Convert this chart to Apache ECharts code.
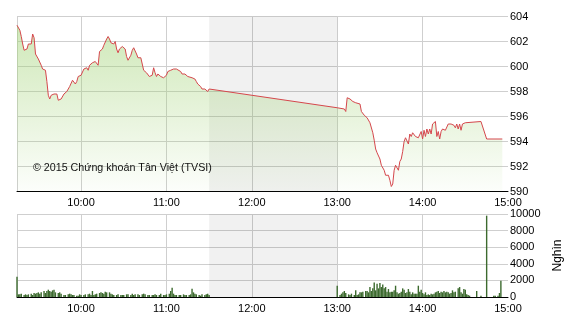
<!DOCTYPE html>
<html>
<head>
<meta charset="utf-8">
<script src="https://cdn.jsdelivr.net/npm/echarts@6/dist/echarts.min.js"></script>
<style>
html,body{margin:0;padding:0;background:#fff;}
#chart{width:570px;height:320px;}
</style>
</head>
<body>
<div id="chart"></div>
<script>
// ---- Data ----
const xTickLabels = ['10:00','11:00','12:00','13:00','14:00','15:00'];
const xStart = '09:15';
const xEnd = '15:00';
const lunchBreak = ['11:30','13:00'];
const priceTicks = [590, 592, 594, 596, 598, 600, 602, 604];
const volumeTicks = [0, 2000, 4000, 6000, 8000, 10000];
const volumeUnit = 'Nghìn';
const copyright = '© 2015 Chứng khoán Tân Việt (TVSI)';

const priceTimes = [
 '09:15','09:17','09:18','09:19','09:20','09:22','09:23','09:25','09:26','09:27','09:28','09:30',
 '09:32','09:33','09:35','09:36','09:37','09:38','09:39','09:41','09:42','09:43','09:44','09:45',
 '09:46','09:48','09:49','09:50','09:51','09:52','09:54','09:55','09:56','09:57','09:58','09:59',
 '10:00','10:02','10:04','10:05','10:06','10:08','10:10','10:11','10:12','10:13','10:14','10:15',
 '10:16','10:18','10:19','10:20','10:21','10:22','10:23','10:24','10:25','10:26','10:27','10:29',
 '10:30','10:31','10:32','10:33','10:35','10:36','10:37','10:38','10:39','10:40','10:42','10:43',
 '10:44','10:46','10:48','10:50','10:51','10:52','10:53','10:54','10:56','10:57','10:58','10:59',
 '11:00','11:01','11:03','11:05','11:07','11:08','11:10','11:11','11:13','11:14','11:15','11:18',
 '11:20','11:21','11:22','11:24','11:25','11:27','11:28','11:29','11:30',
 '13:00','13:05','13:06','13:07','13:09','13:11','13:13','13:14','13:16','13:17','13:19','13:21',
 '13:23','13:24','13:25','13:26','13:27','13:28','13:30','13:31','13:33','13:34','13:35','13:36',
 '13:37','13:38','13:39','13:40','13:41','13:42','13:43','13:44','13:45','13:46','13:47','13:48',
 '13:49','13:50','13:51','13:52','13:53','13:55','13:56','13:57','13:58','13:59','14:00','14:01',
 '14:02','14:03','14:04','14:05','14:06','14:07','14:08','14:09','14:10','14:11','14:12','14:13',
 '14:14','14:16','14:17','14:18','14:20','14:21','14:22','14:23','14:24','14:25','14:26','14:27',
 '14:28','14:29','14:30','14:31','14:41','14:45','14:56'
];
const priceValues = [
 603.3,602.9,602.4,601.8,601.3,601.4,601.8,601.8,602.6,602.3,601.0,600.6,
 600.1,599.8,599.7,598.8,597.7,597.4,597.7,597.8,597.9,597.8,597.3,597.2,
 597.4,597.8,597.9,598.0,598.2,598.4,598.9,598.8,598.6,598.8,599.2,599.1,
 599.3,599.8,599.9,599.7,600.1,600.3,600.4,600.5,600.1,601.2,601.2,601.4,
 601.7,602.2,602.4,602.2,601.9,602.0,601.8,602.0,601.4,601.1,601.4,601.6,
 601.6,601.4,600.8,600.5,600.9,601.3,601.5,601.4,601.0,600.7,600.7,600.2,
 599.7,599.5,599.2,599.3,599.9,599.5,599.2,599.4,599.2,599.3,599.1,599.0,
 599.3,599.6,599.7,599.8,599.8,599.7,599.6,599.4,599.4,599.3,599.2,599.1,
 599.0,598.8,598.6,598.4,598.2,598.2,598.1,598.0,598.2,
 596.7,596.6,596.4,597.5,597.4,597.2,597.1,597.2,597.0,596.4,596.1,595.9,
 595.5,595.4,594.7,594.1,593.4,593.1,592.6,592.1,591.7,591.3,591.2,591.3,
 590.9,590.4,590.6,591.7,592.1,592.1,591.7,592.4,592.6,593.2,594.0,594.3,
 594.4,593.8,594.6,594.4,594.7,594.4,594.4,594.3,594.4,594.8,594.2,594.9,
 594.4,595.0,594.6,595.0,594.6,595.4,595.5,595.6,594.4,594.8,594.2,594.8,
 595.0,594.9,595.0,595.4,595.4,595.4,595.3,595.1,595.4,595.0,595.4,594.9,
 595.4,595.3,595.5,595.6,595.6,594.2,594.2
];

const volumeTimes = [
 '09:15','09:16','09:17','09:18','09:20','09:21','09:22','09:23','09:25','09:26','09:27','09:28',
 '09:29','09:30','09:31','09:32','09:34','09:35','09:36','09:37','09:38','09:39','09:40','09:41',
 '09:42','09:44','09:45','09:46','09:48','09:49','09:51','09:52','09:53','09:54','09:55','09:57',
 '09:58','09:59','10:00','10:02','10:03','10:05','10:06','10:07','10:08','10:09','10:10','10:11',
 '10:13','10:14','10:15','10:16','10:17','10:18','10:20','10:21','10:22','10:23','10:25','10:26',
 '10:28','10:29','10:30','10:32','10:33','10:35','10:36','10:37','10:38','10:40','10:41','10:43',
 '10:44','10:45','10:47','10:48','10:50','10:51','10:52','10:53','10:55','10:56','10:58','10:59',
 '11:00','11:02','11:03','11:04','11:05','11:06','11:07','11:09','11:10','11:12','11:13','11:14',
 '11:16','11:17','11:18','11:19','11:20','11:21','11:23','11:24','11:25','11:27','11:28','11:29','11:30',
 '13:00','13:02','13:03','13:04','13:05','13:06','13:08','13:09','13:10','13:12','13:13','13:14',
 '13:15','13:16','13:17','13:18','13:20','13:21','13:22','13:23','13:24','13:25','13:26','13:27',
 '13:28','13:29','13:30','13:31','13:32','13:33','13:34','13:35','13:36','13:37','13:38','13:39',
 '13:40','13:41','13:42','13:43','13:44','13:45','13:46','13:47','13:48','13:49','13:50','13:51',
 '13:52','13:53','13:54','13:55','13:56','13:57','13:58','13:59','14:00','14:01','14:02','14:03',
 '14:04','14:05','14:06','14:07','14:08','14:09','14:10','14:11','14:12','14:13','14:14','14:15',
 '14:16','14:17','14:18','14:19','14:20','14:21','14:22','14:23','14:25','14:26','14:27','14:28',
 '14:29','14:30','14:31','14:32','14:33','14:38','14:41','14:45','14:50','14:51','14:53','14:54','14:55'
];
const volumeValues = [
 2440,320,320,400,240,320,240,320,400,240,480,400,
 480,560,400,560,720,480,720,880,720,640,800,880,
 560,480,560,400,240,240,320,400,320,240,240,160,
 160,320,240,240,320,320,400,240,720,240,320,400,
 480,560,480,400,640,560,560,400,320,240,240,320,
 240,240,240,320,320,240,400,240,320,320,240,320,
 400,320,240,240,240,240,320,240,240,400,240,240,
 320,400,720,1100,400,240,240,240,240,320,240,240,
 240,320,1000,560,400,320,240,160,320,240,320,400,240,
 1360,240,400,560,720,480,320,240,400,240,800,240,
 320,560,560,640,720,720,560,1200,720,1040,1760,800,
 1600,1040,1680,1200,1520,1040,1200,640,960,560,640,640,
 800,1360,560,400,480,640,1040,880,480,560,960,640,
 320,560,400,400,400,1360,640,880,480,320,560,240,
 320,240,400,320,400,560,640,720,480,640,560,720,
 560,640,560,400,480,800,560,640,1040,1200,560,400,
 960,880,320,240,160,720,160,9800,160,160,160,480,1950
];

// ---- helpers ----
function toMin(t){ const p = t.split(':'); return (+p[0])*60 + (+p[1]); }
function fmt(m){ const h = Math.floor(m/60), mm = Math.round(m%60); return (h<10?'0':'')+h+':'+(mm<10?'0':'')+mm; }

const priceData = priceTimes.map((t,i)=>[toMin(t), priceValues[i]]);
const volumeData = volumeTimes.map((t,i)=>[toMin(t), volumeValues[i]]);
const xMin = toMin(xStart), xMax = toMin(xEnd);
const labelVals = xTickLabels.map(toMin);
const tickVals = [xMin].concat(labelVals);

const font = 'Liberation Sans, Arial, sans-serif';
const gridLine = '#cfcfcf';

function xAxisCfg(gridIndex){
  return {
    type:'value', gridIndex, min:xMin, max:xMax,
    axisLine:{show:true, onZero:false, lineStyle:{color:'#000', width:1}},
    axisTick:{show:false, customValues: tickVals},
    axisLabel:{customValues: labelVals, formatter: v=>fmt(v), color:'#000', fontSize:11, fontFamily:font, margin:6},
    splitLine:{show:true, showMaxLine:false, lineStyle:{color:gridLine, width:1}}
  };
}

const chart = echarts.init(document.getElementById('chart'), null, {renderer:'canvas'});
chart.setOption({
  animation:false,
  backgroundColor:'#fff',
  grid:[
    {left:17, right:62, top:16.5, height:175, outerBoundsMode:'none', containLabel:false},
    {left:17, right:62, top:214, height:83, outerBoundsMode:'none', containLabel:false}
  ],
  xAxis:[xAxisCfg(0), xAxisCfg(1)],
  yAxis:[
    {type:'value', gridIndex:0, position:'right', min:priceTicks[0], max:priceTicks[priceTicks.length-1], interval:2,
     axisLine:{show:false}, axisTick:{show:false},
     axisLabel:{color:'#000', fontSize:11, fontFamily:font, margin:2},
     splitLine:{lineStyle:{color:gridLine, width:1}}},
    {type:'value', gridIndex:1, position:'right', min:volumeTicks[0], max:volumeTicks[volumeTicks.length-1], interval:2000,
     axisLine:{show:false}, axisTick:{show:false},
     axisLabel:{color:'#000', fontSize:11, fontFamily:font, margin:2, formatter: v=>String(v)},
     splitLine:{lineStyle:{color:gridLine, width:1}},
     name: volumeUnit, nameLocation:'middle', nameRotate:90, nameGap:44,
     nameTextStyle:{color:'#000', fontSize:12, fontFamily:font}}
  ],
  graphic:[{
    type:'text', left:33, top:163, z:100,
    style:{text:copyright, fill:'#111', font:'10.7px '+font}
  }],
  series:[
    {type:'line', xAxisIndex:0, yAxisIndex:0, data:priceData, showSymbol:false, symbol:'none',
     lineStyle:{color:'#d5474c', width:1},
     areaStyle:{origin:'start', color:new echarts.graphic.LinearGradient(0,0,0,1,[
        {offset:0, color:'rgba(160,210,115,0.72)'},
        {offset:1, color:'rgba(160,210,115,0.04)'}])},
     markArea:{silent:true, itemStyle:{color:'rgba(0,0,0,0.055)'},
       data:[[{xAxis:toMin(lunchBreak[0])},{xAxis:toMin(lunchBreak[1])}]]}
    },
    {type:'bar', xAxisIndex:1, yAxisIndex:1, data:volumeData, barWidth:1.4,
     itemStyle:{color:'#3c6a2e'},
     markArea:{silent:true, itemStyle:{color:'rgba(0,0,0,0.055)'},
       data:[[{xAxis:toMin(lunchBreak[0])},{xAxis:toMin(lunchBreak[1])}]]}
    }
  ]
});
</script>
</body>
</html>
